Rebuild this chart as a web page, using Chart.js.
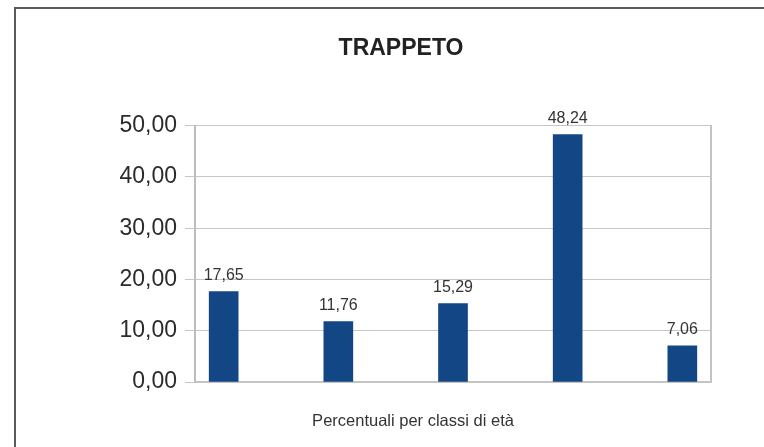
<!DOCTYPE html>
<html>
<head>
<meta charset="utf-8">
<script src="https://cdn.jsdelivr.net/npm/chart.js@4/dist/chart.umd.min.js"></script>
<style>
  html, body { margin: 0; padding: 0; background: #fff; overflow: hidden; }
  #frame {
    position: absolute; left: 14px; top: 7px;
    border-left: 2px solid #5a5a5a; border-top: 2px solid #5a5a5a;
    width: 770px; height: 440px;
  }
  canvas { display: block; }
</style>
</head>
<body>
<div id="frame"><canvas id="chart" width="770" height="440"></canvas></div>
<script>
// dati: percentuali per classi di età
const titolo = 'TRAPPETO';
const didascalia = 'Percentuali per classi di età';
const classi = ['Classe 1', 'Classe 2', 'Classe 3', 'Classe 4', 'Classe 5'];
const percentuali = [17.65, 11.76, 15.29, 48.24, 7.06];
const tickY = [0, 10, 20, 30, 40, 50];

const FONT = '"Liberation Sans", Arial, sans-serif';
const virgola = v => v.toFixed(2).replace('.', ',');

// etichette dei valori sopra le barre
const etichetteValori = {
  id: 'etichetteValori',
  afterDatasetsDraw(chart) {
    const ctx = chart.ctx;
    const meta = chart.getDatasetMeta(0);
    ctx.save();
    ctx.font = '16px ' + FONT;
    ctx.fillStyle = '#333';
    ctx.textAlign = 'center';
    ctx.textBaseline = 'alphabetic';
    meta.data.forEach((bar, i) => {
      ctx.fillText(virgola(percentuali[i]), bar.x, bar.y - 11.5);
    });
    ctx.restore();
  }
};

// didascalia sotto l'asse x
const didascaliaAsse = {
  id: 'didascaliaAsse',
  afterDraw(chart) {
    const a = chart.chartArea;
    const ctx = chart.ctx;
    ctx.save();
    ctx.font = '16.5px ' + FONT;
    ctx.fillStyle = '#333';
    ctx.textAlign = 'center';
    ctx.textBaseline = 'alphabetic';
    ctx.fillText(didascalia, a.left + (a.right - a.left) * 0.4225, a.bottom + 43.5);
    ctx.restore();
  }
};

const ctx = document.getElementById('chart').getContext('2d');
new Chart(ctx, {
  type: 'bar',
  data: {
    labels: classi,
    datasets: [{
      label: didascalia,
      data: percentuali.map((v, i) => ({ x: i, y: v })),
      backgroundColor: '#134684',
      borderWidth: 0,
      barThickness: 29
    }]
  },
  options: {
    responsive: false,
    animation: false,
    devicePixelRatio: 1,
    layout: { padding: { left: 75, right: 75, top: 0, bottom: 67 } },
    plugins: {
      legend: { display: false },
      tooltip: { enabled: false },
      title: {
        display: true,
        text: titolo,
        color: '#222',
        font: { family: FONT, size: 23, weight: 'bold' },
        padding: { top: 26, bottom: 63 }
      }
    },
    scales: {
      x: {
        type: 'linear',
        offset: false,
        min: -0.25,
        max: 4.25,
        ticks: { display: false },
        grid: { display: false },
        border: { display: true, color: '#c4c4c4', width: 2 },
        afterFit: s => { s.height = 0; }
      },
      y: {
        min: 0,
        max: 50,
        afterBuildTicks: s => { s.ticks = tickY.map(v => ({ value: v })); },
        afterFit: s => { s.width = 104; },
        ticks: {
          padding: 8,
          color: '#2b2b2b',
          font: { family: FONT, size: 23 },
          callback: v => virgola(v)
        },
        grid: { color: '#c6c6c6', tickColor: '#c6c6c6', tickLength: 10, lineWidth: 1 },
        border: { display: true, color: '#bdbdbd', width: 2 }
      },
      yDestra: {
        position: 'right',
        min: 0,
        max: 50,
        ticks: { display: false },
        grid: { display: false },
        border: { display: true, color: '#c4c4c4', width: 2 },
        afterFit: s => { s.width = 0; }
      }
    }
  },
  plugins: [etichetteValori, didascaliaAsse]
});
</script>
</body>
</html>
